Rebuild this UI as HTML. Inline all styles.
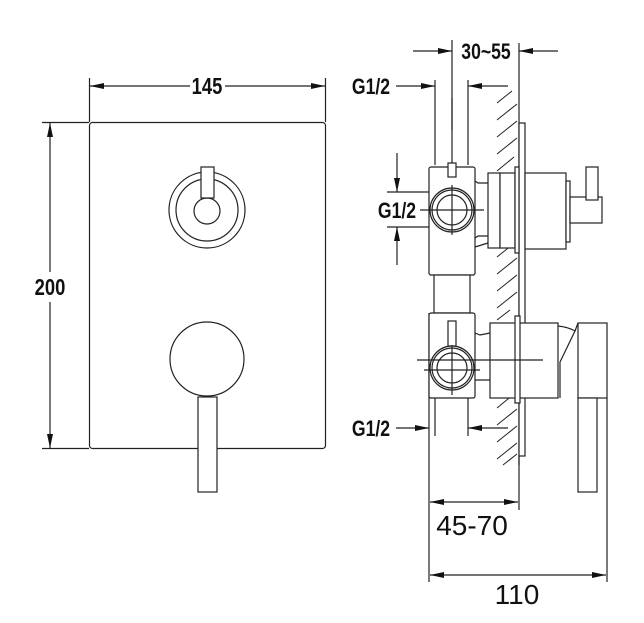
<!DOCTYPE html>
<html><head><meta charset="utf-8"><style>
html,body{margin:0;padding:0;background:#fff;}
svg{display:block;}
.b{font-family:"Liberation Sans",sans-serif;font-weight:bold;fill:#111;}
.n{font-family:"Liberation Sans",sans-serif;fill:#111;}
</style></head><body>
<svg width="644" height="623" viewBox="0 0 644 623" xmlns="http://www.w3.org/2000/svg">
<defs>
<marker id="a" markerWidth="14" markerHeight="8" refX="14" refY="4" orient="auto" markerUnits="userSpaceOnUse">
<path d="M0,1 L14,4 L0,7 Z" fill="#111"/></marker>
</defs>
<g fill="none" stroke="#222" stroke-width="1.2">
<!-- left view -->
<rect x="89.5" y="122.5" width="236" height="326" rx="3"/>
<line x1="89.5" y1="78" x2="89.5" y2="122"/>
<line x1="325.5" y1="78" x2="325.5" y2="122"/>
<line x1="190" y1="86" x2="90" y2="86" marker-end="url(#a)"/>
<line x1="225" y1="86" x2="325" y2="86" marker-end="url(#a)"/>
<line x1="42" y1="122.5" x2="89" y2="122.5"/>
<line x1="42" y1="448.5" x2="89" y2="448.5"/>
<line x1="50" y1="272" x2="50" y2="123" marker-end="url(#a)"/>
<line x1="50" y1="302" x2="50" y2="448" marker-end="url(#a)"/>
<circle cx="207" cy="210" r="38"/>
<circle cx="207" cy="210" r="31"/>
<circle cx="207" cy="211" r="13"/>
<rect x="201" y="167" width="13" height="31" fill="#fff"/>
<circle cx="207" cy="359" r="37"/>
<rect x="198" y="397" width="19" height="95" fill="#fff"/>

<!-- right view: dimensions -->
<line x1="452" y1="40" x2="452" y2="130"/>
<line x1="519" y1="43" x2="519" y2="90"/>
<line x1="413" y1="51" x2="452" y2="51" marker-end="url(#a)"/>
<line x1="558" y1="51" x2="519" y2="51" marker-end="url(#a)"/>
<line x1="396" y1="86" x2="435" y2="86" marker-end="url(#a)"/>
<line x1="508" y1="86" x2="468" y2="86" marker-end="url(#a)"/>
<line x1="435" y1="80" x2="435" y2="165"/>
<line x1="468" y1="80" x2="468" y2="165"/>
<line x1="452" y1="98" x2="452" y2="165"/>
<line x1="397" y1="153" x2="397" y2="192" marker-end="url(#a)"/>
<line x1="397" y1="265" x2="397" y2="227" marker-end="url(#a)"/>
<line x1="387" y1="192" x2="452" y2="192"/>
<line x1="387" y1="227" x2="452" y2="227"/>
<line x1="396" y1="428" x2="429" y2="428" marker-end="url(#a)"/>
<line x1="508" y1="428" x2="468" y2="428" marker-end="url(#a)"/>
<line x1="435" y1="398" x2="435" y2="436"/>
<line x1="468" y1="398" x2="468" y2="436"/>
<line x1="429" y1="313" x2="429" y2="582"/>
<line x1="519" y1="456" x2="519" y2="510"/>
<line x1="607" y1="398" x2="607" y2="582"/>
<line x1="474" y1="502" x2="430" y2="502" marker-end="url(#a)"/>
<line x1="474" y1="502" x2="518" y2="502" marker-end="url(#a)"/>
<line x1="518" y1="575" x2="430" y2="575" marker-end="url(#a)"/>
<line x1="518" y1="575" x2="606" y2="575" marker-end="url(#a)"/>

<!-- wall -->
<line x1="519" y1="90" x2="519" y2="465"/>
<g stroke-width="1">
<path d="M497,103 L512,91 M497,120 L517,104 M497,137 L517,121 M497,154 L517,138 M497,171 L514,157
M497,240 L514,226 M497,257 L517,241 M497,274 L517,258 M497,291 L517,275 M497,308 L517,292 M497,320 L510,310
M497,408 L514,394 M497,425 L517,409 M497,442 L517,426 M497,459 L517,443 M503,465 L517,454"/>
</g>
<rect x="519" y="123" width="6" height="333" fill="#fff"/>

<!-- upper body -->
<rect x="429" y="167" width="46" height="108" rx="2" fill="#fff"/>
<rect x="434" y="275" width="36" height="38" fill="#fff"/>
<rect x="448" y="163" width="8" height="14" fill="#fff"/>
<circle cx="452" cy="210" r="22" fill="#fff"/>
<circle cx="452" cy="210" r="20"/>
<circle cx="452" cy="210" r="15"/>
<line x1="420" y1="210" x2="484" y2="210"/>
<line x1="452" y1="185" x2="452" y2="235"/>
<path d="M475,181 L478,183 L488,183 M475,238 L478,236 L488,236 M475,247 L488,243"/>
<rect x="488" y="173" width="12" height="75" fill="#fff"/>
<rect x="500" y="173" width="15" height="75" fill="#fff"/>
<rect x="515" y="167" width="4" height="86" fill="#fff"/>
<rect x="525" y="173" width="41" height="76" fill="#fff"/>
<rect x="566" y="181" width="4" height="61" fill="#fff"/>
<rect x="570" y="197" width="32" height="26" fill="#fff"/>
<rect x="586" y="167" width="12" height="33" fill="#fff"/>

<!-- lower body -->
<rect x="429" y="313" width="46" height="85" rx="2" fill="#fff"/>
<rect x="448" y="321" width="8" height="25" fill="#fff"/>
<path d="M475,333 L480,335 L490,333 M475,380 L490,380"/>
<circle cx="452" cy="368" r="22" fill="#fff"/>
<circle cx="452" cy="368" r="20"/>
<circle cx="452" cy="368" r="15"/>
<line x1="424" y1="370" x2="480" y2="370"/>
<line x1="452" y1="345" x2="452" y2="395"/>
<rect x="490" y="323" width="68" height="75" fill="#fff"/>
<rect x="515" y="316" width="5" height="87" fill="#fff"/>
<line x1="417" y1="360" x2="543" y2="360"/>
<path d="M558,326 Q568,327 575,331 L560,362 L560,398"/>
<rect x="578" y="323" width="29" height="75" fill="#fff"/>
<path d="M575,331 L578,323"/>
<rect x="578" y="398" width="19" height="94" fill="#fff"/>
</g>

<!-- labels -->
<rect x="190" y="74" width="35" height="24" fill="#fff"/>
<text class="b" x="207" y="94" font-size="23" text-anchor="middle" transform="translate(207,0) scale(0.8,1) translate(-207,0)">145</text>
<rect x="30" y="272" width="40" height="30" fill="#fff"/>
<text class="b" x="50" y="295" font-size="23" text-anchor="middle" transform="translate(50,0) scale(0.8,1) translate(-50,0)">200</text>
<text class="b" x="486" y="59" font-size="22" text-anchor="middle" transform="translate(486,0) scale(0.8,1) translate(-486,0)">30~55</text>
<text class="b" x="371" y="94" font-size="22" text-anchor="middle" transform="translate(371,0) scale(0.8,1) translate(-371,0)">G1/2</text>
<text class="b" x="397" y="218" font-size="22" text-anchor="middle" transform="translate(397,0) scale(0.8,1) translate(-397,0)">G1/2</text>
<text class="b" x="371" y="436" font-size="22" text-anchor="middle" transform="translate(371,0) scale(0.8,1) translate(-371,0)">G1/2</text>
<text class="n" x="472" y="535" font-size="28" text-anchor="middle">45-70</text>
<text class="n" x="517" y="604" font-size="28" text-anchor="middle">110</text>
</svg>
</body></html>
